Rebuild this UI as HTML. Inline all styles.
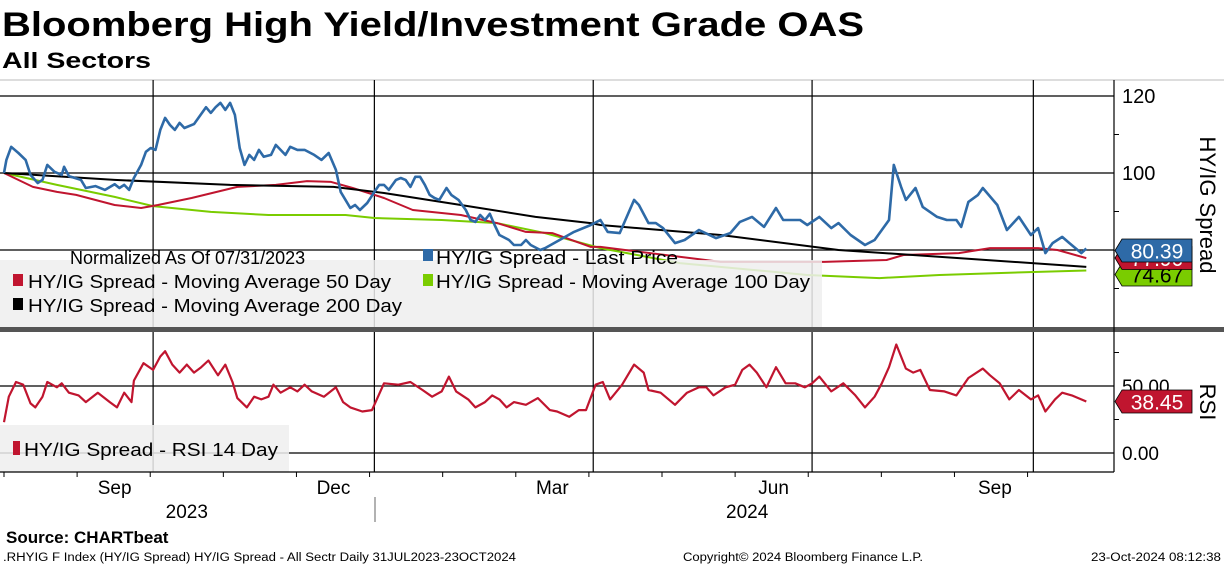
<!DOCTYPE html>
<html><head><meta charset="utf-8"><style>
html,body{margin:0;padding:0;background:#fff;}
svg{display:block;font-family:"Liberation Sans",sans-serif;}
</style></head><body>
<svg id="chart" width="1224" height="566" viewBox="0 0 1224 566" xmlns="http://www.w3.org/2000/svg">
<text x="2" y="36" font-size="34" font-weight="bold" textLength="862" lengthAdjust="spacingAndGlyphs">Bloomberg High Yield/Investment Grade OAS</text>
<text x="2" y="68" font-size="22" font-weight="bold" textLength="149" lengthAdjust="spacingAndGlyphs">All Sectors</text>
<line x1="0" y1="80" x2="1224" y2="80" stroke="#bbb" stroke-width="1"/>
<g id="grid"></g>
<g id="series"></g>
<g id="legends">
 <rect x="0" y="260" width="822" height="67" fill="#eeeeee" fill-opacity="0.85"/>
 <text x="70" y="264" font-size="18" dy="0" transform="translate(0,0)"><tspan x="70" y="264">Normalized As Of 07/31/2023</tspan></text>
 <rect x="423" y="249" width="10" height="12" fill="#2e6aa7"/>
 <text x="436" y="264" font-size="18" textLength="242" lengthAdjust="spacingAndGlyphs">HY/IG Spread - Last Price</text>
 <rect x="13" y="274" width="10" height="12" fill="#c0152f"/>
 <text x="28" y="288" font-size="18" textLength="363" lengthAdjust="spacingAndGlyphs">HY/IG Spread - Moving Average 50 Day</text>
 <rect x="423" y="274" width="10" height="12" fill="#7acc00"/>
 <text x="436" y="288" font-size="18" textLength="374" lengthAdjust="spacingAndGlyphs">HY/IG Spread - Moving Average 100 Day</text>
 <rect x="13" y="298" width="10" height="12" fill="#000"/>
 <text x="28" y="312" font-size="18" textLength="374" lengthAdjust="spacingAndGlyphs">HY/IG Spread - Moving Average 200 Day</text>
 <rect x="0" y="425" width="289" height="47" fill="#eeeeee" fill-opacity="0.85"/>
 <rect x="13" y="441" width="7" height="14" fill="#c0152f"/>
 <text x="24" y="456" font-size="18" textLength="254" lengthAdjust="spacingAndGlyphs">HY/IG Spread - RSI 14 Day</text>
</g>
<rect x="0" y="327" width="1224" height="5" fill="#555"/>
<g id="axes"></g>
<text transform="translate(1200,205) rotate(90)" text-anchor="middle" font-size="22">HY/IG Spread</text>
<text transform="translate(1200,402) rotate(90)" text-anchor="middle" font-size="22">RSI</text>
<text x="6" y="543" font-size="17" font-weight="bold">Source: CHARTbeat</text>
<text x="3" y="561" font-size="11.5" textLength="513" lengthAdjust="spacingAndGlyphs">.RHYIG F Index (HY/IG Spread) HY/IG Spread - All Sectr  Daily 31JUL2023-23OCT2024</text>
<text x="683" y="561" font-size="11.5" textLength="240" lengthAdjust="spacingAndGlyphs">Copyright© 2024 Bloomberg Finance L.P.</text>
<text x="1091" y="561" font-size="11.5" textLength="130" lengthAdjust="spacingAndGlyphs">23-Oct-2024 08:12:38</text>
</svg>
<script>
const priceDays=[0,1,3,6,9,11,14,16,18,21,24,25,27,32,34,38,42,46,48,50,52,54,57,59,61,63,65,67,69,71,73,75,79,84,86,88,90,92,94,96,98,100,102,104,106,108,111,113,115,117,119,122,125,129,132,135,138,140,142,144,146,148,151,154,156,158,160,163,165,167,169,171,173,175,177,179,181,184,186,189,192,194,196,198,200,202,204,206,210,212,215,217,219,223,225,231,237,244,248,251,256,262,264,268,271,274,279,283,289,296,302,306,311,316,321,324,331,334,339,344,347,352,358,362,365,368,370,373,375,379,382,385,388,392,396,398,401,405,407,413,417,422,427,430,433,436,440,443,448,450];
const priceVals=[100,103.4,106.8,105.2,103.4,99.5,97.4,98.2,102.1,100.3,99.5,101.6,99.2,98.2,96.1,96.6,95.6,97.1,96.1,96.9,95.6,98.7,102.1,105.5,106.5,106,111.2,114.3,112.5,111.2,113,111.7,112.7,117.1,115.6,117.1,118.2,116.4,118.2,115.1,106.5,102.1,104.7,103.4,106,104.2,104.7,107.3,106,104.7,106.8,106,106,104.7,103.4,105.2,100.8,95.1,93,90.9,91.7,90.4,92.2,95.1,96.9,96.9,95.6,98.2,98.7,98.2,96.4,99,99,96.9,94.3,93.5,93,96.1,94.3,93,90.4,87.8,87.3,89.1,87.8,89.4,86.5,83.9,82.6,81.3,81.3,82.6,81.3,80,80.5,82.6,84.7,86.5,87.8,84.7,84.4,93,91.7,87,87,85.7,81.8,82.6,85.2,83.1,84.4,87.3,88.6,86,90.9,87.8,87.8,86.5,88.6,85.7,87,83.9,81.3,82.6,85.2,87.8,102.1,96.4,93,96.1,91.2,89.9,88.6,87.8,87.8,86,92.5,94.3,96.1,91.7,85.2,88.6,83.9,85.7,79.2,81.8,83.4,81.8,79.2,80.39];
const ma50Days=[0,12,22,30,46,57,64,78,97,113,126,136,145,158,170,190,205,217,228,244,248,298,341,367,374,397,410,430,438,450];
const ma50Vals=[100,96.4,95.1,94.3,91.7,90.9,91.7,93.5,96.4,96.9,97.9,97.7,96.1,93.5,90.4,89.1,87,84.7,84.4,80.8,80.8,76.9,76.9,77.4,78.7,79.2,80.5,80.5,80,77.9];
const ma100Days=[0,22,46,62,86,110,142,154,182,205,225,248,281,334,364,389,413,450];
const ma100Vals=[100,96.9,93.8,91.4,89.9,89.1,89.1,88.3,87.8,87,84.4,80.5,76.6,73.5,72.7,73.5,74,74.67];
const ma200Days=[0,46,94,137,158,190,221,244,248,298,347,397,450];
const ma200Vals=[100,98.2,96.9,96.4,94.8,91.7,88.6,87,86.5,83.9,80,77.9,75.6];
const rsiDays=[0,2,5,8,11,13,16,18,22,24,27,31,34,39,44,47,50,53,54,58,62,65,67,70,73,76,79,82,85,89,92,95,97,101,104,107,110,112,115,119,122,125,128,133,138,141,144,149,153,158,164,169,174,178,182,185,188,193,196,200,203,206,209,212,217,222,227,230,235,239,242,246,249,252,257,262,266,268,273,279,284,289,292,295,300,304,307,310,313,317,321,325,329,333,336,339,344,349,354,358,362,365,368,371,375,378,381,385,391,396,401,407,410,414,418,422,427,430,433,437,440,444,450];
const rsiVals=[23,42,53,51,37,34,42,53,49,52,45,43,38,45,38,34,45,38,54,67,62,72,76,66,60,66,60,64,69,58,66,53,41,34,42,40,42,51,45,49,46,51,46,42,49,38,34,31,32,52,51,53,47,42,46,57,46,40,34,38,43,40,34,38,36,41,32,31,27,32,32,51,53,40,51,66,60,47,45,36,45,49,49,43,49,51,62,66,60,49,64,52,52,49,52,57,46,52,43,34,42,52,64,81,63,60,62,47,46,43,56,63,58,52,40,47,40,43,31,40,45,43,38.45];
const priceTicks=[120,100];
const rsiTicks=["50.00","0.00"];
const monthLabels=["Sep","Dec","Mar","Jun","Sep"];
const monthLabelDays=[46,137,228,320,412];
const yearLabels=["2023","2024"];
const yearLabelDays=[76,309];
const quarterDays=[62,154,245,336,428];

const NS="http://www.w3.org/2000/svg";
function xS(d){return 4+d*2.405;}
function yP(v){return 173+(100-v)*3.85;}
function yR(v){return 453-v*1.34;}
function mk(tag,attrs,parent){const e=document.createElementNS(NS,tag);for(const k in attrs)e.setAttribute(k,attrs[k]);parent.appendChild(e);return e;}
const grid=document.getElementById('grid'),ser=document.getElementById('series'),ax=document.getElementById('axes');

// horizontal gridlines
[120,100,80].forEach(v=>{const l=mk('line',{x1:0,x2:1114,y1:yP(v),y2:yP(v),stroke:'#000','stroke-width':1.2},grid);

});
[50,0].forEach(v=>{const l=mk('line',{x1:0,x2:1114,y1:yR(v),y2:yR(v),stroke:'#000','stroke-width':1.2},grid);

});
quarterDays.forEach(d=>{const l=mk('line',{x1:xS(d),x2:xS(d),y1:80,y2:472,stroke:'#000','stroke-width':1.2},grid);

});

function line(days,vals,ys,color,w,name){const p=days.map((d,i)=>(i?'L':'M')+xS(d).toFixed(1)+','+ys(vals[i]).toFixed(1)).join('');
const e=mk('path',{d:p,fill:'none',stroke:color,'stroke-width':w,'stroke-linejoin':'round'},ser);

}
line(ma100Days,ma100Vals,yP,'#7acc00',2,'ma100-line');
line(ma50Days,ma50Vals,yP,'#c0152f',2,'ma50-line');
line(ma200Days,ma200Vals,yP,'#000',2,'ma200-line');
line(priceDays,priceVals,yP,'#2e6aa7',2.6,'last-price-line');
line(rsiDays,rsiVals,yR,'#c0152f',2.2,'rsi-line');

// axes
const a1=mk('line',{x1:1114,x2:1114,y1:80,y2:472,stroke:'#000','stroke-width':1.2},ax);


const a2=mk('line',{x1:0,x2:1114,y1:472,y2:472,stroke:'#000','stroke-width':1.2},ax);


priceTicks.forEach(v=>{const t=mk('text',{x:1122,y:yP(v)+7,'font-size':20},ax);t.textContent=v;

});
[110,90,70].forEach(v=>{const l=mk('line',{x1:1114,x2:1119,y1:yP(v),y2:yP(v),stroke:'#000'},ax);

});
[50,0].forEach((v,i)=>{const t=mk('text',{x:1122,y:yR(v)+7,'font-size':19},ax);t.textContent=rsiTicks[i];

});
[75,25].forEach(v=>{const l=mk('line',{x1:1114,x2:1119,y1:yR(v),y2:yR(v),stroke:'#000'},ax);

});
monthLabels.forEach((m,i)=>{const t=mk('text',{x:xS(monthLabelDays[i]),y:494,'font-size':19,'text-anchor':'middle'},ax);t.textContent=m;

});
yearLabels.forEach((m,i)=>{const t=mk('text',{x:xS(yearLabelDays[i]),y:518,'font-size':19,'text-anchor':'middle'},ax);t.textContent=m;

});
const ys=mk('line',{x1:375,x2:375,y1:497,y2:522,stroke:'#666'},ax);


for(let d=0;d<=450;d+=30.4){const l=mk('line',{x1:xS(d),x2:xS(d),y1:472,y2:477,stroke:'#000'},ax);

}

// value tags
function tag(v,yf,fill,txtColor,name,y0){const y=y0!==undefined?y0:yf(v);
const g=mk('g',{},ax);


mk('path',{d:`M1115,${y} L1122,${y-11.5} L1192,${y-11.5} L1192,${y+11.5} L1122,${y+11.5} Z`,fill:fill,stroke:'#000','stroke-width':0.8},g);
const t=mk('text',{x:1157,y:y+8,'font-size':21,'text-anchor':'middle',fill:txtColor},g);t.textContent=v.toFixed(2);}
const lastMa100=ma100Vals[ma100Vals.length-1],lastMa50=ma50Vals[ma50Vals.length-1],lastP=priceVals[priceVals.length-1];
tag(lastMa100,yP,'#7acc00','#000','ma100-value-tag',274.5);
tag(lastMa50,yP,'#c0152f','#fff','ma50-value-tag',258);
tag(lastP,yP,'#2e6aa7','#fff','last-price-value-tag',250.5);
tag(rsiVals[rsiVals.length-1],yR,'#c0152f','#fff','rsi-value-tag');
</script>
</body></html>
